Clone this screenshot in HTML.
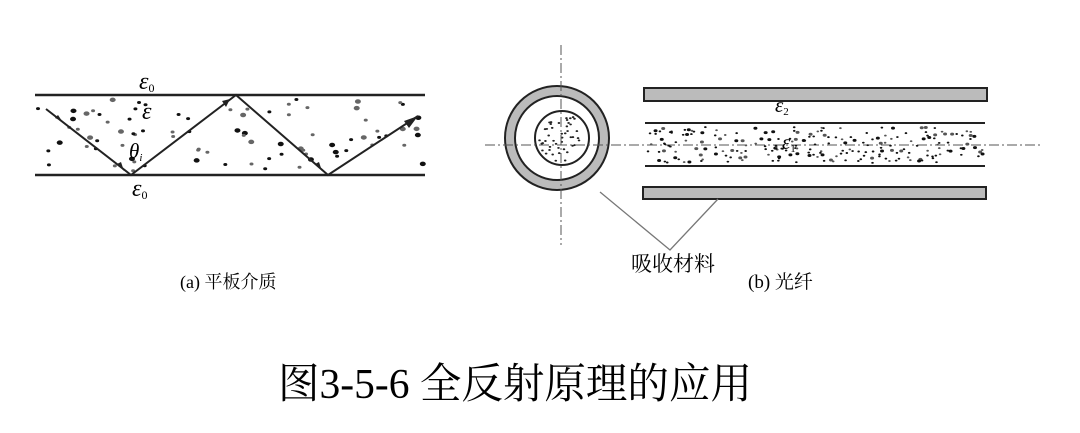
<!DOCTYPE html>
<html><head><meta charset="utf-8"><style>
html,body{margin:0;padding:0;background:#fff;}
svg{display:block;}
</style></head><body>
<svg id="s" width="1080" height="433" viewBox="0 0 1080 433" xmlns="http://www.w3.org/2000/svg" font-family="'Liberation Serif','Noto Serif CJK SC',serif">
<line x1="35" y1="95" x2="425" y2="95" stroke="#222" stroke-width="2.5"/>
<line x1="35" y1="175" x2="425" y2="175" stroke="#222" stroke-width="2.5"/>
<g id="dotsA"></g>
<polyline points="46,109 131,175 236,95 328,175 418,116" fill="none" stroke="#222" stroke-width="2"/>
<polygon points="418,116 404,121 409,128" fill="#222"/>
<polygon points="230,99 222,101 226,107" fill="#222"/>
<polygon points="124,171 117,164 121,162" fill="#222"/>
<polygon points="322,171 315,164 319,162" fill="#222"/>
<polygon points="62,121 55,118 58,115" fill="#222"/>
<text x="139" y="89" font-size="24" font-style="italic">ε<tspan font-size="12" dy="3" font-style="normal">0</tspan></text>
<text x="142" y="119" font-size="24" font-style="italic">ε</text>
<text x="129" y="158" font-size="21" font-style="italic">θ<tspan font-size="11" dy="3">i</tspan></text>
<text x="132" y="196" font-size="24" font-style="italic">ε<tspan font-size="12" dy="3" font-style="normal">0</tspan></text>
<text x="180" y="288" font-size="18">(a) 平板介质</text>
<circle cx="557" cy="138" r="52" fill="#bbb" stroke="#222" stroke-width="2"/>
<circle cx="557" cy="138" r="42" fill="#fff" stroke="#222" stroke-width="2"/>
<circle cx="562" cy="138" r="27" fill="#fff" stroke="#222" stroke-width="2"/>
<g id="dotsC"></g>
<line x1="561" y1="45" x2="561" y2="245" stroke="#555" stroke-width="1" stroke-dasharray="10,3,2,3"/>
<line x1="485" y1="145" x2="1040" y2="145" stroke="#555" stroke-width="1" stroke-dasharray="10,3,2,3"/>
<rect x="644" y="88" width="343" height="13" fill="#bbb" stroke="#222" stroke-width="2"/>
<rect x="643" y="187" width="343" height="12" fill="#bbb" stroke="#222" stroke-width="2"/>
<line x1="645" y1="123" x2="985" y2="123" stroke="#222" stroke-width="2"/>
<line x1="645" y1="166" x2="985" y2="166" stroke="#222" stroke-width="2"/>
<g id="dotsB"></g>
<text x="775" y="112" font-size="21" font-style="italic">ε<tspan font-size="11" dy="3" font-style="normal">2</tspan></text>
<text x="782" y="149" font-size="21" font-style="italic">ε<tspan font-size="11" dy="3" font-style="normal">1</tspan></text>
<polyline points="600,192 670,250 718,199" fill="none" stroke="#777" stroke-width="1.3"/>
<text x="631" y="271" font-size="21">吸收材料</text>
<text x="748" y="288" font-size="19">(b) 光纤</text>
<text x="278" y="398" font-size="42" textLength="474" lengthAdjust="spacingAndGlyphs">图3-5-6  全反射原理的应用</text>
</svg>
<script>
var s=1;function r(){s=(s*16807)%2147483647;return s/2147483647;}
function add(g,x,y,rad,c){var e=document.createElementNS('http://www.w3.org/2000/svg','ellipse');e.setAttribute('cx',x);e.setAttribute('cy',y);e.setAttribute('rx',rad);e.setAttribute('ry',rad*0.75);e.setAttribute('fill',c);document.getElementById(g).appendChild(e);}
for(var i=0;i<85;i++){add('dotsA',38+r()*385,99+r()*73,r()<0.35?3:2,r()<0.5?'#111':'#666');}
for(var i=0;i<220;i++){add('dotsB',648+r()*335,127+r()*36,r()<0.3?2:1.3,r()<0.6?'#111':'#555');}
for(var i=0;i<45;i++){var a=r()*6.283,d=Math.sqrt(r())*24;add('dotsC',562+Math.cos(a)*d,138+Math.sin(a)*d,1.3,'#222');}
</script>
</body></html>
